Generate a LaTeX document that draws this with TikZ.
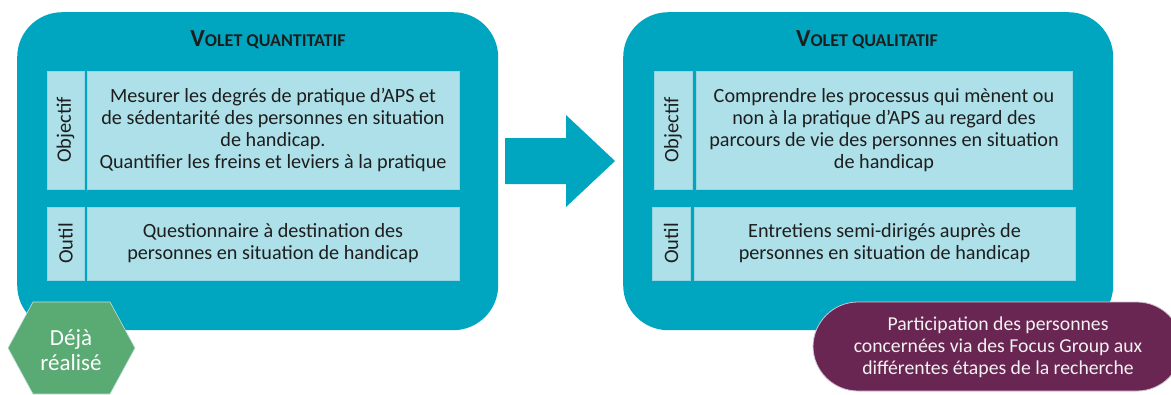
\documentclass[tikz,border=0pt]{standalone}
\usepackage{fontspec}
\setmainfont{Carlito}
\definecolor{boxteal}{RGB}{0,166,192}
\definecolor{lightteal}{RGB}{173,224,233}
\definecolor{edgeteal}{RGB}{150,214,227}
\definecolor{hexgreen}{RGB}{90,170,115}
\definecolor{hexedge}{RGB}{190,225,220}
\definecolor{plum}{RGB}{106,38,82}
\definecolor{plumedge}{RGB}{205,195,210}
\definecolor{plumtext}{RGB}{242,242,242}
\definecolor{ink}{RGB}{30,30,30}
\begin{document}
\begin{tikzpicture}[x=1pt,y=-1pt,
  bigbox/.style={fill=boxteal, draw=none, rounded corners=45},
  inner/.style={fill=lightteal, draw=edgeteal, line width=0.8, inner sep=0, text=ink},
  body/.style={font=\fontsize{20.2}{22}\selectfont, align=center},
  lblbox/.style={inner, rotate=90, font=\fontsize{20.5}{22}\selectfont},
  title/.style={font=\bfseries, text=ink},
  ]
\useasboundingbox (0,0) rectangle (1171,394);
\fill[white] (0,0) rectangle (1171,394);

% big boxes
\node[bigbox, minimum width=481, minimum height=318, anchor=north west] (quanti) at (17,12) {};
\node[bigbox, minimum width=490, minimum height=318, anchor=north west] (quali) at (623,12) {};

% titles
\node[title] (tq) at (268,40) {\fontsize{24.5}{24}\selectfont V\fontsize{18}{24}\selectfont OLET QUANTITATIF};
\node[title] (tl) at (867,40) {\fontsize{24.5}{24}\selectfont V\fontsize{18}{24}\selectfont OLET QUALITATIF};

% left inner boxes
\node[lblbox, minimum width=118, minimum height=37] (lq1) at (65.5,130) {Objectif};
\node[inner, body, minimum width=372, minimum height=118] (tq1) at (273,130)
  {Mesurer les degrés de pratique d’APS et\\de sédentarité des personnes en situation\\de handicap.\\Quantifier les freins et leviers à la pratique};
\node[lblbox, minimum width=73, minimum height=37] (lq2) at (65.5,243.5) {Outil};
\node[inner, body, minimum width=372, minimum height=73] (tq2) at (273,243.5)
  {Questionnaire à destination des\\personnes en situation de handicap};

% right inner boxes
\node[lblbox, minimum width=118, minimum height=38] (ll1) at (673,130) {Objectif};
\node[inner, body, minimum width=376, minimum height=118] (tl1) at (884,130)
  {Comprendre les processus qui mènent ou\\non à la pratique d’APS au regard des\\parcours de vie des personnes en situation\\de handicap};
\node[lblbox, minimum width=73, minimum height=38] (ll2) at (671,243.5) {Outil};
\node[inner, body, minimum width=381, minimum height=73] (tl2) at (884.5,243.5)
  {Entretiens semi-dirigés auprès de\\personnes en situation de handicap};

% block arrow
\fill[boxteal] (505,138) -- (566,138) -- (566,115) -- (615,161) -- (566,207) -- (566,184) -- (505,184) -- cycle;

% hexagon
\filldraw[fill=hexgreen, draw=hexedge, line width=0.6]
  (33,302) -- (110,302) -- (135,348) -- (110,394) -- (33,394) -- (8,348) -- cycle;
\node[text=white, font=\fontsize{23}{25}\selectfont, align=center] (hex) at (71,350) {Déjà\\réalisé};

% purple pill
\begin{scope}
\clip (0,0) rectangle (1171,394);
\filldraw[fill=plum, draw=plumedge, line width=0.8, rounded corners=45] (813,302) rectangle (1182,391);
\end{scope}
\node[text=plumtext, font=\fontsize{19.7}{22}\selectfont, align=center] (focus) at (998,347)
  {Participation des personnes\\concernées via des Focus Group aux\\différentes étapes de la recherche};
\end{tikzpicture}
\end{document}
